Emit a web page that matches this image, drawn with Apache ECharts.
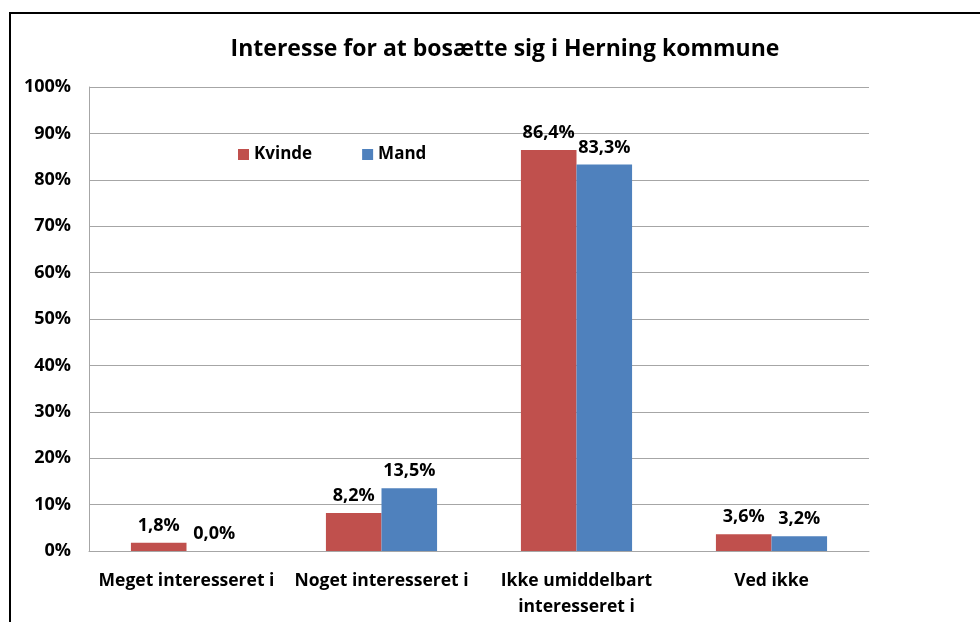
<!DOCTYPE html>
<html>
<head>
<meta charset="utf-8">
<script src="https://cdn.jsdelivr.net/npm/echarts@6/dist/echarts.min.js"></script>
<style>
html, body { margin: 0; padding: 0; background: #fff; }
#chart { width: 980px; height: 622px; }
</style>
</head>
<body>
<div id="chart"></div>
<script>
var categories = ["Meget interesseret i", "Noget interesseret i", "Ikke umiddelbart\ninteresseret i", "Ved ikke"];
var kvinde = [1.8, 8.2, 86.4, 3.6];
var mand = [0.0, 13.5, 83.3, 3.2];
var fnt = "'Open Sans', 'Liberation Sans', sans-serif";

function pct(p) {
    return p.value.toFixed(1).replace(".", ",") + "%";
}

var chart = echarts.init(document.getElementById("chart"));
chart.setOption({
    animation: false,
    title: {
        text: "Interesse for at bosætte sig i Herning kommune",
        left: 500, top: 33, textAlign: "center",
        textStyle: { fontFamily: fnt, fontSize: 23, fontWeight: "bold", color: "#000" }
    },
    graphic: [{
        type: "rect",
        shape: { x: 10, y: 13, width: 1100, height: 800 },
        style: { fill: "none", stroke: "#000", lineWidth: 2 }
    }],
    legend: {
        left: 233, top: 141, itemWidth: 11, itemHeight: 11, itemGap: 50,
        icon: "rect",
        textStyle: { fontFamily: fnt, fontSize: 17, fontWeight: "bold", color: "#000" },
        data: ["Kvinde", "Mand"]
    },
    grid: { left: 89, top: 87, width: 780, height: 464, containLabel: false },
    xAxis: {
        type: "category", data: categories,
        axisLine: { lineStyle: { color: "#a6a6a6", width: 1 } },
        axisTick: { show: false },
        axisLabel: { interval: 0, margin: 17, fontFamily: fnt, fontSize: 17.5, fontWeight: "bold", color: "#000", lineHeight: 26 }
    },
    yAxis: {
        type: "value", min: 0, max: 100, interval: 10,
        axisLine: { show: true, lineStyle: { color: "#a6a6a6" } },
        splitLine: { lineStyle: { color: "#a6a6a6" } },
        axisLabel: { margin: 18, fontFamily: fnt, fontSize: 18, fontWeight: "bold", color: "#000", formatter: "{value}%" }
    },
    series: [{
        name: "Kvinde", type: "bar", data: kvinde, barGap: "0%", barCategoryGap: "43%",
        itemStyle: { color: "#c0504d" },
        label: { show: true, position: "top", distance: 8, formatter: pct, fontFamily: fnt, fontSize: 18, fontWeight: "bold", color: "#000" }
    }, {
        name: "Mand", type: "bar", data: mand,
        itemStyle: { color: "#4f81bd" },
        label: { show: true, position: "top", distance: 8, formatter: pct, fontFamily: fnt, fontSize: 18, fontWeight: "bold", color: "#000" }
    }]
});
</script>
</body>
</html>
